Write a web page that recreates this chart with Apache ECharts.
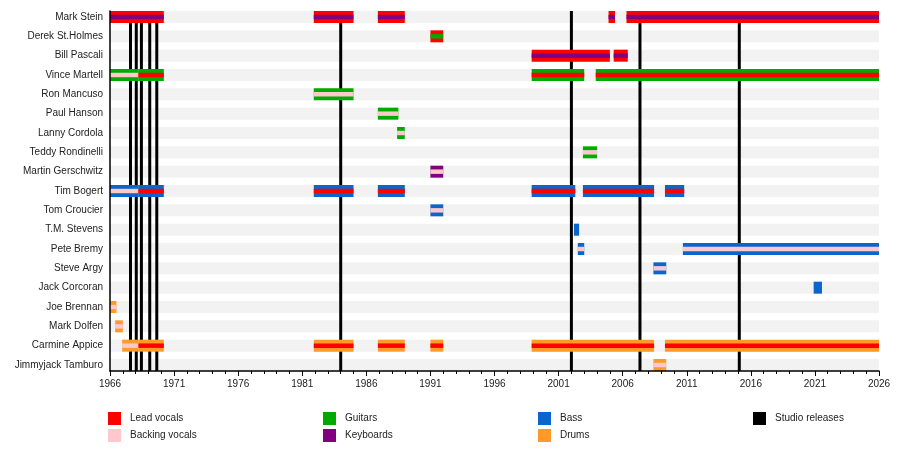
<!DOCTYPE html>
<html>
<head>
<meta charset="utf-8">
<script src="https://cdn.jsdelivr.net/npm/echarts@6/dist/echarts.min.js"></script>
<style>
html, body { margin: 0; padding: 0; background: #fff; }
#main { width: 900px; height: 450px; }
</style>
</head>
<body>
<div id="main"></div>
<script>
// members, top to bottom
var members = ['Mark Stein', 'Derek St.Holmes', 'Bill Pascali', 'Vince Martell', 'Ron Mancuso',
    'Paul Hanson', 'Lanny Cordola', 'Teddy Rondinelli', 'Martin Gerschwitz', 'Tim Bogert',
    'Tom Croucier', 'T.M. Stevens', 'Pete Bremy', 'Steve Argy', 'Jack Corcoran',
    'Joe Brennan', 'Mark Dolfen', 'Carmine Appice', 'Jimmyjack Tamburo'];

var roles = ['Lead vocals', 'Backing vocals', 'Guitars', 'Keyboards', 'Bass', 'Drums'];
var roleColors = ['#ff0000', '#ffc8cc', '#00aa00', '#800080', '#0a66cc', '#ff9a28'];

// [member, from, to, main bar, thin stripe]
var periods = [
    ['Mark Stein', 1966.0, 1970.2, 'Lead vocals', 'Keyboards'],
    ['Mark Stein', 1981.9, 1985.0, 'Lead vocals', 'Keyboards'],
    ['Mark Stein', 1986.9, 1989.0, 'Lead vocals', 'Keyboards'],
    ['Mark Stein', 2004.9, 2005.4, 'Lead vocals', 'Keyboards'],
    ['Mark Stein', 2006.3, 2026.0, 'Lead vocals', 'Keyboards'],
    ['Derek St.Holmes', 1991.0, 1992.0, 'Lead vocals', 'Guitars'],
    ['Bill Pascali', 1998.9, 2005.0, 'Lead vocals', 'Keyboards'],
    ['Bill Pascali', 2005.3, 2006.4, 'Lead vocals', 'Keyboards'],
    ['Vince Martell', 1966.0, 1968.2, 'Guitars', 'Backing vocals'],
    ['Vince Martell', 1968.2, 1970.2, 'Guitars', 'Lead vocals'],
    ['Vince Martell', 1998.9, 2003.0, 'Guitars', 'Lead vocals'],
    ['Vince Martell', 2003.9, 2026.0, 'Guitars', 'Lead vocals'],
    ['Ron Mancuso', 1981.9, 1985.0, 'Guitars', 'Backing vocals'],
    ['Paul Hanson', 1986.9, 1988.5, 'Guitars', 'Backing vocals'],
    ['Lanny Cordola', 1988.4, 1989.0, 'Guitars', 'Backing vocals'],
    ['Teddy Rondinelli', 2002.9, 2004.0, 'Guitars', 'Backing vocals'],
    ['Martin Gerschwitz', 1991.0, 1992.0, 'Keyboards', 'Backing vocals'],
    ['Tim Bogert', 1966.0, 1968.2, 'Bass', 'Backing vocals'],
    ['Tim Bogert', 1968.2, 1970.2, 'Bass', 'Lead vocals'],
    ['Tim Bogert', 1981.9, 1985.0, 'Bass', 'Lead vocals'],
    ['Tim Bogert', 1986.9, 1989.0, 'Bass', 'Lead vocals'],
    ['Tim Bogert', 1998.9, 2002.3, 'Bass', 'Lead vocals'],
    ['Tim Bogert', 2002.9, 2008.45, 'Bass', 'Lead vocals'],
    ['Tim Bogert', 2009.3, 2010.8, 'Bass', 'Lead vocals'],
    ['Tom Croucier', 1991.0, 1992.0, 'Bass', 'Backing vocals'],
    ['T.M. Stevens', 2002.2, 2002.6, 'Bass', null],
    ['Pete Bremy', 2002.5, 2003.0, 'Bass', 'Backing vocals'],
    ['Pete Bremy', 2010.7, 2026.0, 'Bass', 'Backing vocals'],
    ['Steve Argy', 2008.4, 2009.4, 'Bass', 'Backing vocals'],
    ['Jack Corcoran', 2020.9, 2021.55, 'Bass', null],
    ['Joe Brennan', 1966.0, 1966.5, 'Drums', 'Backing vocals'],
    ['Mark Dolfen', 1966.4, 1967.0, 'Drums', 'Backing vocals'],
    ['Carmine Appice', 1966.95, 1968.2, 'Drums', 'Backing vocals'],
    ['Carmine Appice', 1968.2, 1970.2, 'Drums', 'Lead vocals'],
    ['Carmine Appice', 1981.9, 1985.0, 'Drums', 'Lead vocals'],
    ['Carmine Appice', 1986.9, 1989.0, 'Drums', 'Lead vocals'],
    ['Carmine Appice', 1991.0, 1992.0, 'Drums', 'Lead vocals'],
    ['Carmine Appice', 1998.9, 2008.45, 'Drums', 'Lead vocals'],
    ['Carmine Appice', 2009.3, 2026.0, 'Drums', 'Lead vocals'],
    ['Jimmyjack Tamburo', 2008.4, 2009.4, 'Drums', 'Backing vocals']
];

// studio albums
var albums = [1967.6, 1968.05, 1968.45, 1969.1, 1969.65, 1984.0, 2002.0, 2007.35, 2015.1];

var yearFrom = 1966, yearTo = 2026;
var BAR = 0.62, STRIPE = 0.23;

function bar(thick, fill) {
    return function (params, api) {
        var s = api.coord([api.value(1), api.value(0)]);
        var e = api.coord([api.value(2), api.value(0)]);
        var h = api.size([0, thick])[1];
        return {
            type: 'rect',
            shape: { x: s[0], y: s[1] - h / 2, width: e[0] - s[0], height: h },
            style: { fill: fill || api.visual('color') }
        };
    };
}

var series = [];
// grey row bands
series.push({
    type: 'custom', silent: true, z: 1,
    encode: { x: [1, 2], y: 0 },
    data: members.map(function (m, i) { return [i, yearFrom, yearTo]; }),
    renderItem: bar(BAR, '#f2f2f2')
});
// album lines
series.push({
    name: 'Studio releases', type: 'custom', z: 2, silent: true,
    itemStyle: { color: '#000' },
    encode: { x: 0, y: 1 },
    data: albums.map(function (a) { return [a, 0]; }),
    renderItem: function (params, api) {
        var x = api.coord([api.value(0), 0])[0];
        var cs = params.coordSys;
        return { type: 'rect', shape: { x: x - 1.5, y: cs.y, width: 3, height: cs.height }, style: { fill: '#000' } };
    }
});
roles.forEach(function (role, k) {
    var outer = [], inner = [];
    periods.forEach(function (p) {
        var row = members.indexOf(p[0]);
        if (p[3] === role) outer.push([row, p[1], p[2]]);
        if (p[4] === role) inner.push([row, p[1], p[2]]);
    });
    series.push({ name: role, type: 'custom', z: 3, silent: true, itemStyle: { color: roleColors[k] },
        encode: { x: [1, 2], y: 0 }, data: outer, renderItem: bar(BAR) });
    series.push({ name: role, type: 'custom', z: 4, silent: true, itemStyle: { color: roleColors[k] },
        encode: { x: [1, 2], y: 0 }, data: inner, renderItem: bar(STRIPE) });
});

function legendCol(left, names) {
    return {
        orient: 'vertical', left: left, top: 412, padding: 0,
        itemWidth: 13, itemHeight: 13, itemGap: 4, icon: 'rect',
        selectedMode: false,
        textStyle: { fontSize: 10, color: '#222', padding: [0, 0, 0, 4] },
        data: names
    };
}

var myChart = echarts.init(document.getElementById('main'));
var option = {
    animation: false,
    textStyle: { fontFamily: 'Liberation Sans, Arial, sans-serif' },
    grid: { left: 110, right: 21, top: 11, bottom: 79 },
    legend: [
        legendCol(108, ['Lead vocals', 'Backing vocals']),
        legendCol(323, ['Guitars', 'Keyboards']),
        legendCol(538, ['Bass', 'Drums']),
        legendCol(753, ['Studio releases'])
    ],
    xAxis: {
        type: 'value', position: 'bottom', min: yearFrom, max: yearTo, interval: 5, z: 10,
        axisLine: { onZero: false, lineStyle: { color: '#000', width: 1.5 } },
        axisTick: { length: 5, lineStyle: { color: '#000' } },
        minorTick: { show: true, splitNumber: 5, length: 3, lineStyle: { color: '#000' } },
        splitLine: { show: false },
        axisLabel: { fontSize: 10, color: '#222', margin: 8, formatter: function (v) { return String(v); } }
    },
    yAxis: {
        type: 'value', inverse: true, min: -BAR / 2, max: members.length - 1 + BAR / 2, z: 10,
        axisLine: { show: true, onZero: false, lineStyle: { color: '#000', width: 1.5 } },
        axisTick: { show: false },
        splitLine: { show: false },
        axisLabel: {
            fontSize: 10, color: '#222', margin: 7,
            customValues: members.map(function (m, i) { return i; }),
            formatter: function (v) { return members[v]; }
        }
    },
    series: series
};
myChart.setOption(option);
</script>
</body>
</html>
